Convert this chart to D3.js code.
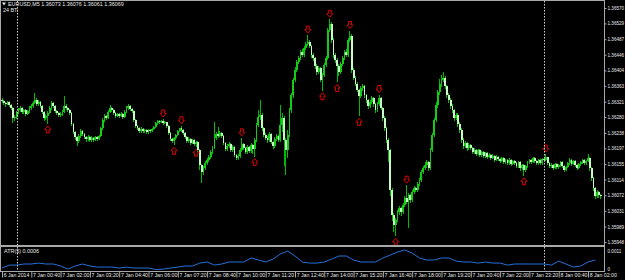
<!DOCTYPE html>
<html lang="en">
<head>
<meta charset="UTF-8">
<title>EURUSD,M5</title>
<style>
body { margin: 0; background: #000; }
svg { display: block; font-family: "Liberation Sans", Arial, sans-serif; }
.axis .domain { display: none; }
.axis text { fill: #e8e8e8; font-size: 5.2px; }
.axis.price text { font-size: 4.6px; }
.axis line { stroke: #a8a8a8; }
</style>
</head>
<body>
<script src="https://cdn.jsdelivr.net/npm/d3@7"></script>
<script>
// prices in points above 1.35000 (1 point = 0.00001), one value per M5 bar
var firstOpen = 1325

var close = [
1322,1317,1314,1320,1312,1304,1277,1280,1293,1298,1304,1293,1298,1288,1296,1304,
1309,1317,1325,1314,1320,1309,1293,1277,1282,1290,1304,1317,1309,1296,1290,1285,
1288,1293,1309,1304,1298,1290,1261,1240,1227,1216,1229,1243,1235,1227,1221,1227,
1219,1224,1219,1227,1221,1229,1250,1272,1282,1277,1293,1304,1298,1290,1282,1288,
1282,1288,1280,1293,1304,1309,1301,1296,1272,1256,1250,1243,1248,1243,1245,1240,
1245,1243,1248,1253,1264,1269,1266,1269,1264,1266,1256,1237,1221,1216,1224,1232,
1243,1250,1245,1237,1227,1216,1221,1211,1219,1208,1213,1192,1152,1133,1144,1157,
1165,1173,1187,1197,1224,1235,1229,1237,1229,1211,1195,1203,1208,1192,1200,1179,
1171,1176,1192,1208,1197,1187,1200,1189,1205,1195,1219,1258,1280,1285,1250,1232,
1224,1219,1235,1213,1203,1221,1229,1219,1258,1277,1219,1192,1232,1298,1338,1378,
1405,1426,1437,1453,1445,1463,1474,1479,1469,1445,1437,1415,1399,1410,1378,1391,
1418,1437,1511,1527,1485,1445,1431,1415,1399,1421,1437,1453,1445,1485,1495,1405,
1384,1368,1352,1336,1357,1362,1338,1325,1309,1320,1330,1314,1298,1314,1330,1304,
1277,1250,1219,1192,1086,1019,993,1006,1027,1038,1027,1046,1064,1054,1072,1059,
1080,1091,1086,1102,1112,1133,1144,1152,1160,1144,1192,1232,1272,1312,1346,1368,
1378,1384,1362,1338,1325,1309,1298,1277,1285,1261,1245,1219,1203,1211,1197,1205,
1197,1187,1192,1181,1192,1179,1187,1176,1184,1173,1179,1171,1176,1165,1173,1168,
1163,1171,1160,1165,1157,1165,1155,1163,1157,1149,1160,1144,1152,1139,1149,1160,
1165,1160,1171,1163,1157,1165,1157,1168,1165,1173,1157,1149,1152,1144,1155,1147,
1152,1160,1149,1139,1147,1157,1165,1155,1163,1152,1144,1155,1160,1165,1157,1163,
1171,1144,1118,1091,1070,1080,1073,1069]

var high = [
1330,1326,1320,1324,1323,1315,1306,1286,1297,1303,1309,1307,1302,1301,1300,1309,
1314,1322,1344,1330,1326,1324,1312,1296,1288,1295,1309,1322,1320,1312,1300,1294,
1293,1298,1335,1314,1308,1301,1293,1264,1244,1230,1234,1248,1246,1238,1231,1232,
1231,1229,1227,1231,1230,1233,1255,1277,1288,1286,1298,1312,1308,1301,1293,1292,
1292,1293,1291,1298,1310,1314,1312,1305,1299,1275,1260,1254,1253,1252,1249,1249,
1249,1248,1252,1257,1268,1272,1271,1271,1275,1270,1268,1259,1240,1225,1228,1236,
1247,1252,1257,1248,1240,1230,1226,1224,1223,1222,1217,1216,1195,1156,1150,1162,
1170,1178,1192,1203,1266,1240,1253,1242,1240,1232,1214,1208,1213,1211,1205,1203,
1183,1181,1198,1225,1212,1200,1205,1204,1210,1208,1224,1263,1300,1325,1290,1255,
1238,1230,1240,1238,1217,1226,1234,1233,1312,1290,1282,1225,1245,1305,1345,1385,
1412,1432,1443,1458,1460,1468,1480,1498,1485,1472,1450,1440,1420,1416,1413,1397,
1424,1442,1518,1540,1532,1490,1450,1436,1420,1426,1443,1458,1460,1490,1510,1500,
1410,1389,1372,1356,1362,1368,1366,1342,1329,1326,1335,1334,1318,1320,1340,1334,
1308,1282,1255,1224,1196,1092,1025,1012,1032,1044,1042,1052,1070,1099,1078,1076,
1086,1097,1095,1108,1118,1140,1150,1160,1166,1164,1198,1238,1278,1320,1352,1380,
1392,1399,1390,1366,1344,1330,1314,1302,1292,1290,1266,1250,1224,1216,1214,1210,
1209,1201,1197,1195,1196,1195,1191,1190,1188,1187,1184,1182,1181,1179,1178,1177,
1172,1175,1174,1169,1168,1170,1168,1167,1166,1160,1164,1163,1156,1155,1153,1164,
1169,1168,1175,1174,1166,1169,1168,1172,1171,1182,1175,1160,1157,1155,1159,1158,
1156,1164,1163,1152,1151,1161,1170,1168,1167,1166,1155,1159,1164,1169,1168,1167,
1181,1174,1148,1122,1095,1086,1084,1076]

var low = [
1318,1312,1308,1311,1306,1298,1264,1270,1276,1289,1294,1288,1289,1283,1285,1292,
1300,1305,1314,1310,1310,1304,1288,1270,1272,1262,1287,1300,1304,1291,1285,1280,
1281,1284,1290,1299,1293,1285,1256,1234,1220,1203,1211,1225,1230,1222,1215,1217,
1214,1215,1213,1216,1217,1218,1226,1247,1268,1271,1274,1290,1293,1285,1277,1279,
1278,1279,1275,1277,1290,1300,1297,1291,1266,1250,1245,1238,1239,1238,1239,1235,
1236,1239,1240,1245,1250,1260,1262,1263,1260,1261,1251,1232,1216,1210,1205,1220,
1229,1240,1240,1233,1222,1211,1212,1206,1208,1204,1200,1187,1140,1104,1126,1140,
1152,1160,1169,1183,1194,1220,1225,1226,1224,1205,1189,1191,1199,1186,1188,1173,
1165,1166,1172,1188,1192,1182,1183,1184,1185,1182,1175,1215,1254,1272,1244,1226,
1218,1212,1215,1208,1195,1199,1216,1213,1215,1240,1150,1125,1170,1228,1290,1330,
1372,1400,1420,1432,1440,1441,1459,1470,1463,1438,1430,1408,1392,1394,1372,1350,
1386,1412,1432,1505,1478,1438,1424,1372,1390,1394,1416,1432,1439,1440,1480,1396,
1378,1362,1346,1282,1330,1350,1332,1318,1302,1304,1315,1308,1292,1294,1310,1298,
1270,1244,1212,1160,1070,1005,975,963,1000,1020,1018,1022,1040,1048,985,1052,
1054,1075,1080,1082,1097,1108,1128,1139,1146,1138,1140,1186,1226,1266,1305,1340,
1360,1372,1356,1330,1318,1302,1292,1270,1272,1255,1238,1212,1196,1198,1190,1192,
1192,1182,1183,1176,1178,1174,1175,1171,1172,1168,1170,1166,1168,1160,1162,1164,
1158,1160,1156,1156,1152,1154,1150,1152,1153,1144,1146,1138,1140,1124,1134,1146,
1156,1155,1157,1159,1153,1154,1152,1154,1160,1162,1152,1144,1145,1139,1141,1142,
1143,1148,1145,1134,1136,1144,1153,1151,1152,1148,1139,1141,1151,1156,1153,1154,
1160,1138,1110,1084,1062,1066,1066,1061]

// fractal bars (upper / lower)
var fracUp = [88, 98, 131, 167, 179, 190, 206, 221, 297]
var fracDn = [25, 94, 106, 138, 175, 183, 195, 215, 285]

// ATR(5), units of 0.0001, sampled every 4 bars
var atrStep = 4
var atr = [1.1,2.7,2.7,3.3,3.3,3.8,3.3,3.3,2.2,0.5, 2.2,3.3,2.2,1.6,1.6,1.6,1.1,1.6,1.1,1.1,
	1.1,0.2,0.5,1.1,1.6,2.2,2.2,3.8,4.4,2.7, 3.3,4.4,4.4,4.4,6.6,5.5,4.4,6.0,8.8,10.4,
	7.7,4.4,3.8,3.8,4.4,6.0,7.7,7.7,5.5,4.4, 4.4,4.4,6.6,8.2,9.9,11.0,9.3,6.6,5.5,5.5,
	6.6,6.6,4.9,4.4,4.4,3.8,4.4,3.8,3.8,2.7, 3.3,3.3,3.3,3.3,3.3,2.7,4.9,3.3,1.6,2.2,
	4.4,5.5]

var priceTicks = [1.36570,1.36529,1.36487,1.36446,1.36404,1.36363,1.36321,1.36280,
	1.36238,1.36197,1.36155,1.36114,1.36072,1.36031,1.35989,1.35948]
var timeLabels = ["6 Jan 2014","7 Jan 00:40","7 Jan 02:00","7 Jan 03:20","7 Jan 04:40",
	"7 Jan 06:00","7 Jan 07:20","7 Jan 08:40","7 Jan 10:00","7 Jan 11:20","7 Jan 12:40",
	"7 Jan 14:00","7 Jan 15:20","7 Jan 16:40","7 Jan 18:00","7 Jan 19:20","7 Jan 20:40",
	"7 Jan 22:00","7 Jan 23:20","8 Jan 00:40","8 Jan 02:00"]
var barsPerLabel = 16
var daySeparators = [8, 296]

var toPrice = function (p) { return 1.35 + p / 100000 }

var data = close.map(function (c, i) {
	return {
		i: i,
		o: toPrice(i ? close[i - 1] : firstOpen),
		h: toPrice(high[i]),
		l: toPrice(low[i]),
		c: toPrice(c)
	}
})

var width = 625, height = 280,
	plotRight = 604.5, mainBottom = 245, atrBottom = 271.5

var x = d3.scaleLinear().domain([0, barsPerLabel]).range([2, 31.3])
var y = d3.scaleLinear()
	.domain([priceTicks[priceTicks.length - 1], priceTicks[0]])
	.range([242, 8])
var ya = d3.scaleLinear().domain([0, 0.0011]).range([270, 250])

var svg = d3.select("body").append("svg")
	.attr("width", width)
	.attr("height", height)
	.style("background", "#000")

svg.append("clipPath").attr("id", "main-clip")
	.append("rect").attr("x", 1).attr("y", 1).attr("width", plotRight - 1).attr("height", mainBottom - 1)
svg.append("clipPath").attr("id", "atr-clip")
	.append("rect").attr("x", 1).attr("y", mainBottom + 2).attr("width", plotRight - 1).attr("height", atrBottom - mainBottom - 2)

// candles
var candles = svg.append("g").attr("clip-path", "url(#main-clip)")
	.attr("shape-rendering", "crispEdges")

candles.selectAll(".wick")
	.data(data)
	.enter().append("line")
	.attr("class", "wick")
	.attr("x1", function (d) { return x(d.i) })
	.attr("x2", function (d) { return x(d.i) })
	.attr("y1", function (d) { return y(d.h) })
	.attr("y2", function (d) { return y(d.l) })
	.attr("stroke", "#00bc00")
	.attr("stroke-width", 1)

candles.selectAll(".body")
	.data(data)
	.enter().append("rect")
	.attr("class", "body")
	.attr("x", function (d) { return x(d.i) - 0.9 })
	.attr("width", 1.8)
	.attr("y", function (d) { return y(Math.max(d.o, d.c)) })
	.attr("height", function (d) { return Math.max(1, Math.abs(y(d.o) - y(d.c))) })
	.attr("fill", function (d) { return d.c >= d.o ? "#14cc14" : "#c4fcc4" })

// fractal arrows
var arrowDown = "M-1.5,-3.5H1.5V0H3L0,3.5L-3,0H-1.5Z"
var arrowUp = "M-1.5,3.5H1.5V0H3L0,-3.5L-3,0H-1.5Z"

var marks = svg.append("g").attr("clip-path", "url(#main-clip)")
marks.selectAll(".frac-up")
	.data(fracUp)
	.enter().append("path")
	.attr("class", "frac-up")
	.attr("d", arrowDown)
	.attr("transform", function (i) { return "translate(" + x(i) + "," + (y(data[i].h) - 5.5) + ")" })
	.attr("fill", "none")
	.attr("stroke", "#e00000")
	.attr("stroke-width", 1)
marks.selectAll(".frac-dn")
	.data(fracDn)
	.enter().append("path")
	.attr("class", "frac-dn")
	.attr("d", arrowUp)
	.attr("transform", function (i) { return "translate(" + x(i) + "," + (y(data[i].l) + 5.5) + ")" })
	.attr("fill", "none")
	.attr("stroke", "#e00000")
	.attr("stroke-width", 1)

// ATR line
svg.append("path")
	.datum(atr)
	.attr("clip-path", "url(#atr-clip)")
	.attr("fill", "none")
	.attr("stroke", "#2470d8")
	.attr("stroke-width", 1)
	.attr("d", d3.line()
		.x(function (d, k) { return x(k * atrStep) })
		.y(function (d) { return ya(d / 10000) }))

// day separators
svg.selectAll(".sep")
	.data(daySeparators)
	.enter().append("line")
	.attr("class", "sep")
	.attr("x1", function (i) { return Math.round(x(i)) + 0.5 })
	.attr("x2", function (i) { return Math.round(x(i)) + 0.5 })
	.attr("y1", 1)
	.attr("y2", atrBottom)
	.attr("stroke", "#d0d0d0")
	.attr("stroke-dasharray", "1.5,1.5")

// frame
var frame = svg.append("g").attr("shape-rendering", "crispEdges")
frame.append("line").attr("x1", 0).attr("x2", plotRight).attr("y1", 0.5).attr("y2", 0.5).attr("stroke", "#a8a8a8")
frame.append("line").attr("x1", 0.5).attr("x2", 0.5).attr("y1", 0).attr("y2", atrBottom).attr("stroke", "#a8a8a8")
frame.append("line").attr("x1", plotRight).attr("x2", plotRight).attr("y1", 0).attr("y2", atrBottom).attr("stroke", "#a8a8a8")
frame.append("rect").attr("x", 0).attr("y", mainBottom).attr("width", plotRight).attr("height", 2).attr("fill", "#a8a8a8")
frame.append("line").attr("x1", 0).attr("x2", plotRight).attr("y1", atrBottom).attr("y2", atrBottom).attr("stroke", "#a8a8a8")

// price axis
svg.append("g")
	.attr("class", "axis price")
	.attr("transform", "translate(" + plotRight + ",0)")
	.call(d3.axisRight(y).tickValues(priceTicks).tickSize(2).tickPadding(1).tickFormat(d3.format(".5f")))

// ATR axis
svg.append("g")
	.attr("class", "axis price")
	.attr("transform", "translate(" + plotRight + ",0)")
	.call(d3.axisRight(ya).tickValues([0.0011, 0]).tickSize(0).tickPadding(3)
		.tickFormat(function (d) { return d ? "0.0011" : "0" }))
	.selectAll("text")
	.attr("dy", function (d) { return d ? "0.5em" : "0.1em" })

// time axis
var xAxis = svg.append("g")
	.attr("class", "axis")
	.attr("transform", "translate(0," + atrBottom + ")")
	.call(d3.axisBottom(x)
		.tickValues(d3.range(0, close.length, barsPerLabel))
		.tickSize(6)
		.tickFormat(function (d, i) { return timeLabels[i] }))
xAxis.selectAll("text")
	.attr("text-anchor", "start")
	.attr("x", 1.2)
	.attr("y", 2)

// labels
svg.append("path")
	.attr("d", "M2,2.5H6L4,5.5Z")
	.attr("fill", "#e8e8e8")
svg.append("text")
	.attr("x", 8)
	.attr("y", 6)
	.attr("fill", "#e8e8e8")
	.style("font-size", "5.4px")
	.text("EURUSD,M5  1.36073 1.36076 1.36061 1.36069")
svg.append("text")
	.attr("x", 3)
	.attr("y", 12)
	.attr("fill", "#e8e8e8")
	.style("font-size", "5.4px")
	.text("24 BT:")
svg.append("text")
	.attr("x", 4)
	.attr("y", 253)
	.attr("fill", "#e8e8e8")
	.style("font-size", "5.4px")
	.text("ATR(5) 0.0006")
</script>
</body>
</html>
